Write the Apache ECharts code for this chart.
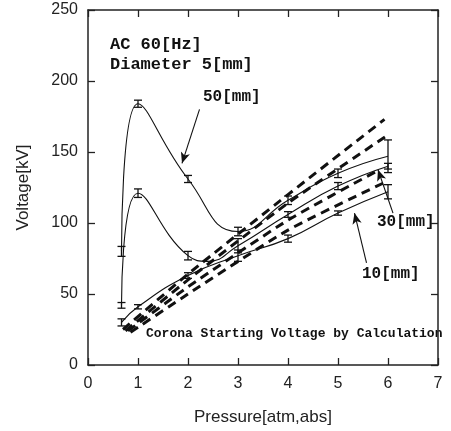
<!DOCTYPE html>
<html lang="en">
<head>
    <meta charset="utf-8">
    <title>Corona voltage vs pressure</title>
    <style>
        html, body { margin: 0; padding: 0; background: #fff; }
        #main { width: 451px; height: 431px; }
    </style>
</head>
<body>
    <div id="main"></div>
    <script src="https://cdn.jsdelivr.net/npm/echarts@6/dist/echarts.min.js"></script>
    <script>
    // measured pressures [atm,abs]
    var pressure = [0.67, 1, 2, 3, 4, 5, 6];

    // measured breakdown voltages [kV] and half heights of the error bars
    var v50 = [80, 184, 131, 94, 116, 135, 147];
    var e50 = [3.5, 2.5, 2.5, 3, 3, 3, 11.5];
    var v30 = [42, 121, 77, 84, 106, 126, 140];
    var e30 = [2, 3, 3, 5, 2, 2.5, 2];
    var v10 = [30, 41, 63, 77, 89, 107, 122];
    var e10 = [2.5, 1.5, 2, 4, 2.5, 1.5, 5];

    var curve30Extra = [[2.4, 73]];

    // calculated corona starting voltage (dashed lines), [pressure, kV]
    var calcA = [[0.7, 25], [2, 64], [4, 120], [5.93, 173]];
    var calcB = [[0.75, 24], [2, 60], [4, 114], [6, 162]];
    var calcC = [[0.8, 24], [2, 55], [4, 102], [5.8, 137]];
    var calcD = [[0.85, 23], [2, 50], [4, 95], [5.9, 128]];

    var xTicks = [0, 7, 1];
    var yTicks = [0, 250, 50];

    var chart = echarts.init(document.getElementById('main'));

    function pairs(xs, ys, extra) {
        var out = xs.map(function (x, i) { return [x, ys[i]]; });
        if (extra) out = out.concat(extra);
        out.sort(function (a, b) { return a[0] - b[0]; });
        return out;
    }

    function bars(xs, ys, es) {
        return xs.map(function (x, i) { return [x, ys[i] - es[i], ys[i] + es[i]]; });
    }

    function renderBar(params, api) {
        var lo = api.coord([api.value(0), api.value(1)]);
        var hi = api.coord([api.value(0), api.value(2)]);
        var w = 4;
        var style = { stroke: '#111', lineWidth: 1.3 };
        return {
            type: 'group',
            children: [
                { type: 'line', shape: { x1: lo[0], y1: lo[1], x2: hi[0], y2: hi[1] }, style: style },
                { type: 'line', shape: { x1: lo[0] - w, y1: lo[1], x2: lo[0] + w, y2: lo[1] }, style: style },
                { type: 'line', shape: { x1: hi[0] - w, y1: hi[1], x2: hi[0] + w, y2: hi[1] }, style: style }
            ]
        };
    }

    var solid = { color: '#111', width: 1.1 };
    var dashed = { color: '#111', width: 3, type: [9, 6] };

    function solidSeries(data) {
        return { type: 'line', data: data, smooth: 0.5, showSymbol: false, lineStyle: solid, silent: true, z: 3 };
    }
    function dashSeries(data) {
        return { type: 'line', data: data, smooth: 0.2, showSymbol: false, lineStyle: dashed, silent: true, z: 2 };
    }
    function barSeries(data) {
        return { type: 'custom', renderItem: renderBar, data: data, silent: true, z: 4 };
    }

    function arrow(from, to) {
        return [{ coord: from }, { coord: to }];
    }

    var axisLine = { show: true, onZero: false, lineStyle: { color: '#222', width: 1.5 } };
    var tickIn = { show: true, inside: true, length: 7, lineStyle: { color: '#222', width: 1.3 } };
    var labelFont = { color: '#222', fontSize: 16, fontFamily: 'Liberation Sans' };
    var noteFont = 'bold 17px "Liberation Mono"';

    var option = {
        animation: false,
        backgroundColor: '#fff',
        grid: { left: 88, right: 13, top: 10, bottom: 65 },
        xAxis: [{
            type: 'value', min: xTicks[0], max: xTicks[1], interval: xTicks[2],
            name: 'Pressure[atm,abs]', nameLocation: 'middle', nameGap: 44,
            nameTextStyle: { color: '#222', fontSize: 17, fontFamily: 'Liberation Sans' },
            axisLine: axisLine, axisTick: tickIn, splitLine: { show: false },
            axisLabel: Object.assign({ margin: 11 }, labelFont)
        }, {
            type: 'value', position: 'top', min: xTicks[0], max: xTicks[1], interval: xTicks[2],
            axisLine: axisLine, axisTick: tickIn, splitLine: { show: false }, axisLabel: { show: false }
        }],
        yAxis: [{
            type: 'value', min: yTicks[0], max: yTicks[1], interval: yTicks[2],
            name: 'Voltage[kV]', nameLocation: 'middle', nameGap: 56,
            nameTextStyle: { color: '#222', fontSize: 17, fontFamily: 'Liberation Sans' },
            axisLine: axisLine, axisTick: tickIn, splitLine: { show: false },
            axisLabel: Object.assign({ margin: 10 }, labelFont)
        }, {
            type: 'value', position: 'right', min: yTicks[0], max: yTicks[1], interval: yTicks[2],
            axisLine: axisLine, axisTick: tickIn, splitLine: { show: false }, axisLabel: { show: false }
        }],
        series: [
            dashSeries(calcA), dashSeries(calcB), dashSeries(calcC), dashSeries(calcD),
            solidSeries(pairs(pressure, v50)),
            solidSeries(pairs(pressure, v30, curve30Extra)),
            solidSeries(pairs(pressure, v10)),
            barSeries(bars(pressure, v50, e50)),
            barSeries(bars(pressure, v30, e30)),
            barSeries(bars(pressure, v10, e10)),
            {
                type: 'line', data: [], silent: true,
                markLine: {
                    silent: true, symbol: ['none', 'arrow'], symbolSize: [7, 11],
                    label: { show: false },
                    lineStyle: { color: '#111', width: 1.1, type: 'solid' },
                    data: [
                        arrow([2.23, 180], [1.88, 142]),
                        arrow([6.1, 107], [5.8, 137.5]),
                        arrow([5.57, 72], [5.33, 107])
                    ]
                }
            }
        ],
        graphic: [
            { type: 'text', left: 110, top: 36, style: { text: 'AC 60[Hz]', font: noteFont, fill: '#111' } },
            { type: 'text', left: 110, top: 56, style: { text: 'Diameter 5[mm]', font: noteFont, fill: '#111' } },
            { type: 'text', left: 203, top: 89, style: { text: '50[mm]', font: 'bold 16px "Liberation Mono"', fill: '#111' } },
            { type: 'text', left: 377, top: 214, style: { text: '30[mm]', font: 'bold 16px "Liberation Mono"', fill: '#111' } },
            { type: 'text', left: 362, top: 266, style: { text: '10[mm]', font: 'bold 16px "Liberation Mono"', fill: '#111' } },
            { type: 'text', left: 146, top: 327, style: { text: 'Corona Starting Voltage by Calculation', font: 'bold 13px "Liberation Mono"', fill: '#111' } }
        ]
    };

    chart.setOption(option);
    </script>
</body>
</html>
